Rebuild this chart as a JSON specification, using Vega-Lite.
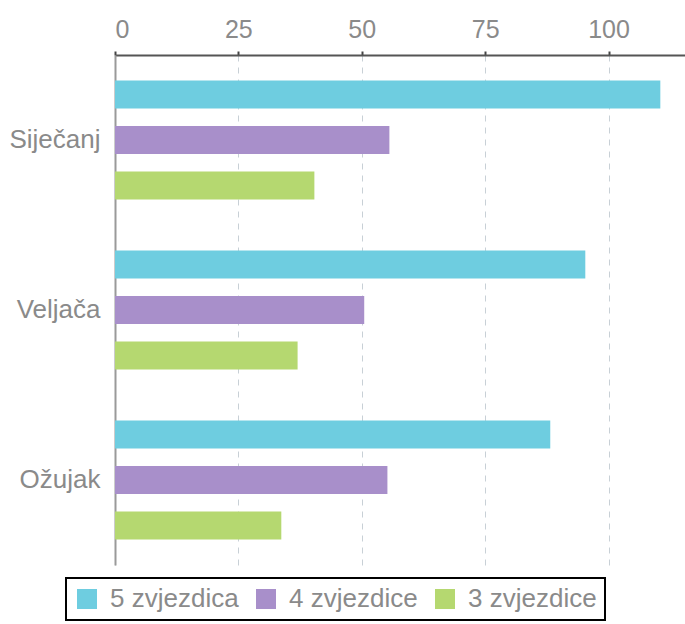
{
  "$schema": "https://vega.github.io/schema/vega-lite/v6.json",
  "width": 570,
  "height": 510,
  "autosize": "none",
  "padding": {"left": 115, "top": 55, "right": 0, "bottom": 59},
  "background": "white",
  "data": {
    "values": [
      {"mjesec": "Siječanj", "kategorija": "5 zvjezdica", "broj": 110.5},
      {"mjesec": "Siječanj", "kategorija": "4 zvjezdice", "broj": 55.6},
      {"mjesec": "Siječanj", "kategorija": "3 zvjezdice", "broj": 40.4},
      {"mjesec": "Veljača", "kategorija": "5 zvjezdica", "broj": 95.3},
      {"mjesec": "Veljača", "kategorija": "4 zvjezdice", "broj": 50.5},
      {"mjesec": "Veljača", "kategorija": "3 zvjezdice", "broj": 37},
      {"mjesec": "Ožujak", "kategorija": "5 zvjezdica", "broj": 88.2},
      {"mjesec": "Ožujak", "kategorija": "4 zvjezdice", "broj": 55.2},
      {"mjesec": "Ožujak", "kategorija": "3 zvjezdice", "broj": 33.7}
    ]
  },
  "config": {
    "view": {"stroke": null},
    "font": "Liberation Sans"
  },
  "mark": {"type": "bar"},
  "encoding": {
    "y": {
      "field": "mjesec",
      "type": "nominal",
      "sort": ["Siječanj", "Veljača", "Ožujak"],
      "scale": {"paddingInner": 0, "paddingOuter": 0},
      "axis": {
        "title": null,
        "ticks": false,
        "domainColor": "#9a9a9a",
        "domainWidth": 2,
        "labelFontSize": 26,
        "labelColor": "#8a8a8a",
        "labelPadding": 15
      }
    },
    "yOffset": {
      "field": "kategorija",
      "sort": ["5 zvjezdica", "4 zvjezdice", "3 zvjezdice"],
      "scale": {"paddingInner": 0.385, "paddingOuter": 0.56}
    },
    "x": {
      "field": "broj",
      "type": "quantitative",
      "scale": {"domain": [0, 115.5], "nice": false, "zero": true},
      "axis": {
        "orient": "top",
        "title": null,
        "values": [0, 25, 50, 75, 100],
        "domainColor": "#555555",
        "domainWidth": 2,
        "tickColor": "#444444",
        "tickSize": 4,
        "tickWidth": 2,
        "labelFontSize": 25,
        "labelColor": "#8a8a8a",
        "labelPadding": 9,
        "grid": true,
        "gridColor": "#c8d0d6",
        "gridDash": [6, 6],
        "gridWidth": 1
      }
    },
    "color": {
      "field": "kategorija",
      "type": "nominal",
      "sort": ["5 zvjezdica", "4 zvjezdice", "3 zvjezdice"],
      "scale": {
        "domain": ["5 zvjezdica", "4 zvjezdice", "3 zvjezdice"],
        "range": ["#6ecde0", "#a88fca", "#b5d870"]
      },
      "legend": {
        "title": null,
        "orient": "none",
        "legendX": -49,
        "legendY": 523,
        "direction": "horizontal",
        "columns": 3,
        "symbolType": "square",
        "symbolSize": 400,
        "symbolStrokeWidth": 0,
        "labelFontSize": 26,
        "labelColor": "#8a8a8a",
        "columnPadding": 14,
        "labelOffset": 10,
        "padding": 8,
        "strokeColor": "#000000",
        "encode": {"legend": {"update": {"strokeWidth": {"value": 2}}}}
      }
    }
  }
}
